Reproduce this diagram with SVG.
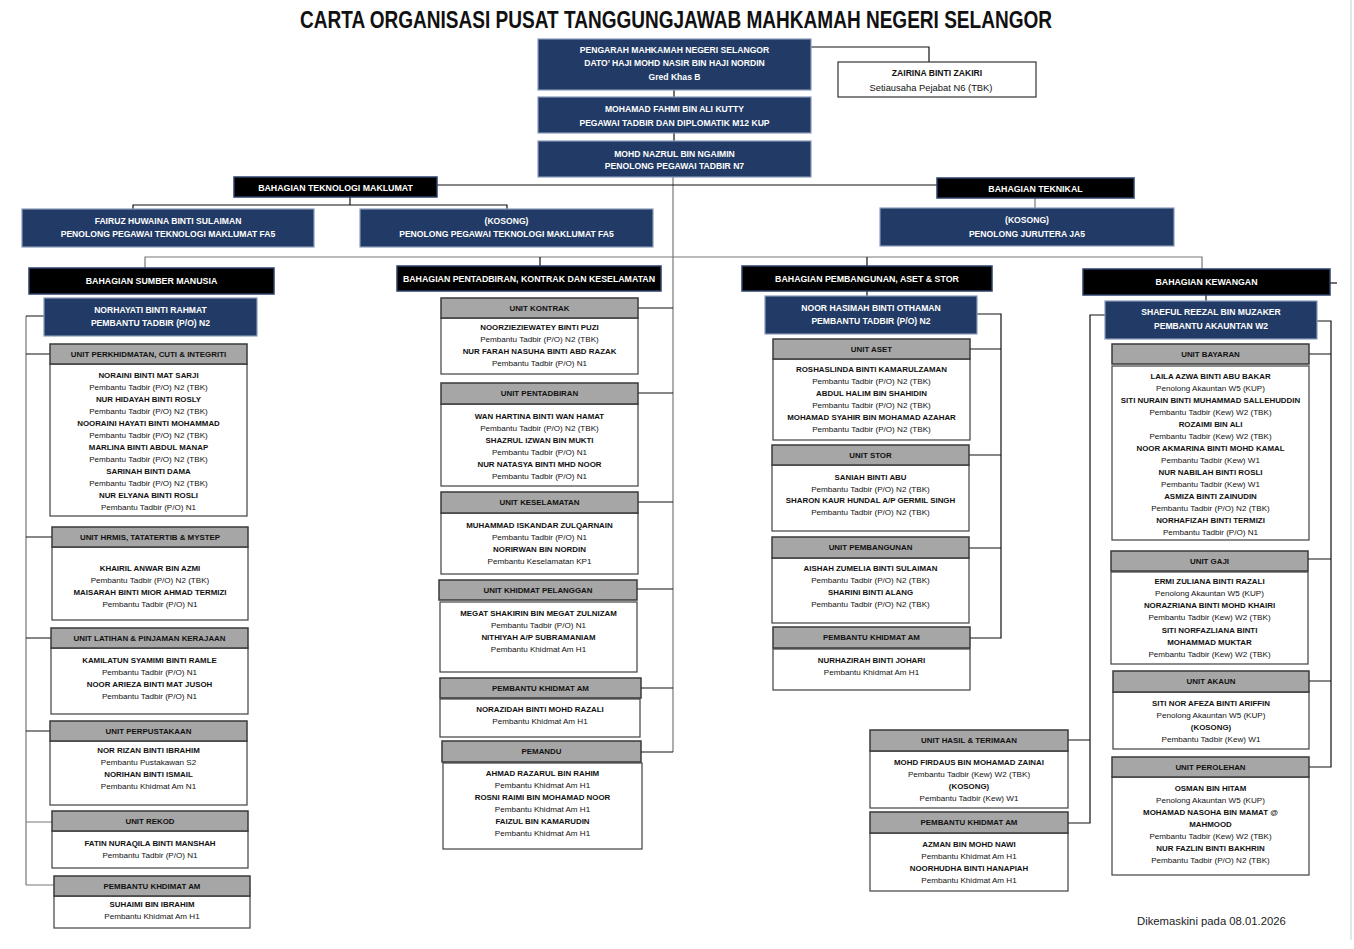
<svg xmlns="http://www.w3.org/2000/svg" width="1354" height="949" viewBox="0 0 1354 949">
<style>
text{font-family:"Liberation Sans",Arial,sans-serif;text-anchor:middle;dominant-baseline:central}
.title{font-size:24px;font-weight:bold;fill:#111}
.blue{fill:#213b66;stroke:#8a9bb8;stroke-width:1.2}
.blk{fill:#000;stroke:#2c4066;stroke-width:1.5}
.hdr{fill:#a6a6a6;stroke:#3a3a3a;stroke-width:1.5}
.bdy{fill:#fff;stroke:#404040;stroke-width:1.2}
.wt{font-size:8.6px;font-weight:bold;fill:#fff}
.bt{font-size:8.8px;font-weight:bold;fill:#fff}
.h{font-size:7.9px;font-weight:bold;fill:#111}
.n{font-size:7.9px;font-weight:bold;fill:#111}
.r{font-size:8.1px;fill:#111}
.ft{font-size:11.3px;fill:#222;text-anchor:start}
.c{fill:none;stroke:#111;stroke-width:1.2}
.cg{fill:none;stroke:#777;stroke-width:1.2}
</style>
<rect width="1354" height="949" fill="#fff"/>
<line x1="1351" y1="0" x2="1351" y2="940" stroke="#ccc" stroke-width="1"/>
<text class="title" x="676" y="19" textLength="752" lengthAdjust="spacingAndGlyphs">CARTA ORGANISASI PUSAT TANGGUNGJAWAB MAHKAMAH NEGERI SELANGOR</text>

<g id="connectors">
<path class="c" d="M811,47H929V62"/>
<path class="c" d="M674,90V97M674,133V141"/>
<path class="cg" d="M673,177V752"/>
<path class="c" d="M437,185H937"/>
<path class="c" d="M350,197V205M133,209V205H507V209"/>
<path class="cg" d="M1035,198V208"/>
<path class="cg" d="M145,268V257H1202V269"/>
<path class="c" d="M540,257V266M867,257V266"/>
<path class="cg" d="M26,316V885"/>
<path class="c" d="M26,316H44M26,354H50M26,537H52M26,638H51M26,731H50"/>
<path class="cg" d="M26,822H52M26,885H54"/>
<path class="c" d="M638,308H673M638,393H673M638,502H673M637,589H673M641,688H673M641,752H673"/>
<path class="c" d="M867,291V296"/>
<path class="c" d="M977,314H1001V638H970M970,349H1001M969,455H1001M969,548H1001"/>
<path class="c" d="M1206,295V301"/>
<path class="c" d="M1105,315H1090V823H1068M1068,740H1090"/>
<path class="c" d="M1317,321H1331V767H1309M1309,354H1331M1308,559H1331M1309,681H1331"/>
<path class="c" d="M1330,283H1337"/>
</g>

<g id="pengarah"><rect class="blue" x="538" y="39" width="273" height="51"/>
<text class="wt" x="674.5" y="50">PENGARAH MAHKAMAH NEGERI SELANGOR</text>
<text class="wt" x="674.5" y="63">DATO’ HAJI MOHD NASIR BIN HAJI NORDIN</text>
<text class="wt" x="674.5" y="77">Gred Khas B</text></g>
<g id="zairina"><rect x="838" y="62" width="198" height="35" fill="#fff" stroke="#333" stroke-width="1.2"/>
<text class="n" x="937" y="73" style="font-size:8.6px">ZAIRINA BINTI ZAKIRI</text>
<text class="r" x="931" y="87" style="font-size:9.4px">Setiausaha Pejabat N6 (TBK)</text></g>
<g id="fahmi"><rect class="blue" x="538" y="97" width="273" height="36"/>
<text class="wt" x="674.5" y="109">MOHAMAD FAHMI BIN ALI KUTTY</text>
<text class="wt" x="674.5" y="123">PEGAWAI TADBIR DAN DIPLOMATIK M12 KUP</text></g>
<g id="nazrul"><rect class="blue" x="538" y="141" width="273" height="36"/>
<text class="wt" x="674.5" y="154">MOHD NAZRUL BIN NGAIMIN</text>
<text class="wt" x="674.5" y="166">PENOLONG PEGAWAI TADBIR N7</text></g>

<g id="bhg-tm"><rect class="blk" x="234" y="177" width="203" height="20"/>
<text class="bt" x="335.5" y="187.5">BAHAGIAN TEKNOLOGI MAKLUMAT</text></g>
<g id="bhg-teknikal"><rect class="blk" x="937" y="178" width="197" height="20"/>
<text class="bt" x="1035.5" y="188.5">BAHAGIAN TEKNIKAL</text></g>
<g id="fairuz"><rect class="blue" x="22" y="209" width="292" height="38"/>
<text class="wt" x="168" y="221">FAIRUZ HUWAINA BINTI SULAIMAN</text>
<text class="wt" x="168" y="234">PENOLONG PEGAWAI TEKNOLOGI MAKLUMAT FA5</text></g>
<g id="kosong-it"><rect class="blue" x="360" y="209" width="293" height="38"/>
<text class="wt" x="506.5" y="221">(KOSONG)</text>
<text class="wt" x="506.5" y="234">PENOLONG PEGAWAI TEKNOLOGI MAKLUMAT FA5</text></g>
<g id="kosong-ja"><rect class="blue" x="880" y="208" width="294" height="38"/>
<text class="wt" x="1027" y="220">(KOSONG)</text>
<text class="wt" x="1027" y="234">PENOLONG JURUTERA JA5</text></g>

<g id="bhg-sm"><rect class="blk" x="29" y="268" width="245" height="26"/>
<text class="bt" x="151.5" y="281">BAHAGIAN SUMBER MANUSIA</text></g>
<g id="bhg-pks"><rect class="blk" x="397" y="266" width="264" height="25"/>
<text class="bt" x="529" y="278.5">BAHAGIAN PENTADBIRAN, KONTRAK DAN KESELAMATAN</text></g>
<g id="bhg-pas"><rect class="blk" x="742" y="266" width="250" height="25"/>
<text class="bt" x="867" y="278.5">BAHAGIAN PEMBANGUNAN, ASET &amp; STOR</text></g>
<g id="bhg-kew"><rect class="blk" x="1083" y="269" width="247" height="26"/>
<text class="bt" x="1206.5" y="282">BAHAGIAN KEWANGAN</text></g>

<g id="norhayati"><rect class="blue" x="44" y="298" width="213" height="38"/>
<text class="wt" x="150.5" y="310">NORHAYATI BINTI RAHMAT</text>
<text class="wt" x="150.5" y="323">PEMBANTU TADBIR (P/O) N2</text></g>
<g id="hasimah"><rect class="blue" x="765" y="296" width="212" height="38"/>
<text class="wt" x="871" y="308">NOOR HASIMAH BINTI OTHAMAN</text>
<text class="wt" x="871" y="321">PEMBANTU TADBIR (P/O) N2</text></g>
<g id="shaeful"><rect class="blue" x="1105" y="301" width="212" height="38"/>
<text class="wt" x="1211" y="312">SHAEFUL REEZAL BIN MUZAKER</text>
<text class="wt" x="1211" y="326">PEMBANTU AKAUNTAN W2</text></g>

<!-- Column 1 -->
<g id="u-perkhidmatan"><rect class="bdy" x="50" y="364" width="197" height="152"/><rect class="hdr" x="50" y="344" width="197" height="20"/>
<text class="h" x="148.5" y="354">UNIT PERKHIDMATAN, CUTI &amp; INTEGRITI</text>
<text class="n" x="148.5" y="375">NORAINI BINTI MAT SARJI</text>
<text class="r" x="148.5" y="387">Pembantu Tadbir (P/O) N2 (TBK)</text>
<text class="n" x="148.5" y="399">NUR HIDAYAH BINTI ROSLY</text>
<text class="r" x="148.5" y="411">Pembantu Tadbir (P/O) N2 (TBK)</text>
<text class="n" x="148.5" y="423">NOORAINI HAYATI BINTI MOHAMMAD</text>
<text class="r" x="148.5" y="435">Pembantu Tadbir (P/O) N2 (TBK)</text>
<text class="n" x="148.5" y="447">MARLINA BINTI ABDUL MANAP</text>
<text class="r" x="148.5" y="459">Pembantu Tadbir (P/O) N2 (TBK)</text>
<text class="n" x="148.5" y="471">SARINAH BINTI DAMA</text>
<text class="r" x="148.5" y="483">Pembantu Tadbir (P/O) N2 (TBK)</text>
<text class="n" x="148.5" y="495">NUR ELYANA BINTI ROSLI</text>
<text class="r" x="148.5" y="507">Pembantu Tadbir (P/O) N1</text></g>
<g id="u-hrmis"><rect class="bdy" x="52" y="547" width="196" height="73"/><rect class="hdr" x="52" y="527" width="196" height="20"/>
<text class="h" x="150" y="537">UNIT HRMIS, TATATERTIB &amp; MYSTEP</text>
<text class="n" x="150" y="568">KHAIRIL ANWAR BIN AZMI</text>
<text class="r" x="150" y="580">Pembantu Tadbir (P/O) N2 (TBK)</text>
<text class="n" x="150" y="592">MAISARAH BINTI MIOR AHMAD TERMIZI</text>
<text class="r" x="150" y="604">Pembantu Tadbir (P/O) N1</text></g>
<g id="u-latihan"><rect class="bdy" x="51" y="648" width="197" height="66"/><rect class="hdr" x="51" y="628" width="197" height="20"/>
<text class="h" x="149.5" y="638">UNIT LATIHAN &amp; PINJAMAN KERAJAAN</text>
<text class="n" x="149.5" y="660">KAMILATUN SYAMIMI BINTI RAMLE</text>
<text class="r" x="149.5" y="672">Pembantu Tadbir (P/O) N1</text>
<text class="n" x="149.5" y="684">NOOR ARIEZA BINTI MAT JUSOH</text>
<text class="r" x="149.5" y="696">Pembantu Tadbir (P/O) N1</text></g>
<g id="u-perpustakaan"><rect class="bdy" x="50" y="741" width="197" height="64"/><rect class="hdr" x="50" y="721" width="197" height="20"/>
<text class="h" x="148.5" y="731">UNIT PERPUSTAKAAN</text>
<text class="n" x="148.5" y="750">NOR RIZAN BINTI IBRAHIM</text>
<text class="r" x="148.5" y="762">Pembantu Pustakawan S2</text>
<text class="n" x="148.5" y="774">NORIHAN BINTI ISMAIL</text>
<text class="r" x="148.5" y="786">Pembantu Khidmat Am N1</text></g>
<g id="u-rekod"><rect class="bdy" x="52" y="831" width="196" height="37"/><rect class="hdr" x="52" y="811" width="196" height="20"/>
<text class="h" x="150" y="821">UNIT REKOD</text>
<text class="n" x="150" y="843">FATIN NURAQILA BINTI MANSHAH</text>
<text class="r" x="150" y="855">Pembantu Tadbir (P/O) N1</text></g>
<g id="u-pka-sm"><rect class="bdy" x="54" y="896" width="196" height="32"/><rect class="hdr" x="54" y="876" width="196" height="20"/>
<text class="h" x="152" y="886">PEMBANTU KHDIMAT AM</text>
<text class="n" x="152" y="904">SUHAIMI BIN IBRAHIM</text>
<text class="r" x="152" y="916">Pembantu Khidmat Am H1</text></g>

<!-- Column 2 -->
<g id="u-kontrak"><rect class="bdy" x="441" y="318" width="197" height="56"/><rect class="hdr" x="441" y="298" width="197" height="20"/>
<text class="h" x="539.5" y="308">UNIT KONTRAK</text>
<text class="n" x="539.5" y="327">NOORZIEZIEWATEY BINTI PUZI</text>
<text class="r" x="539.5" y="339">Pembantu Tadbir (P/O) N2 (TBK)</text>
<text class="n" x="539.5" y="351">NUR FARAH NASUHA BINTI ABD RAZAK</text>
<text class="r" x="539.5" y="363">Pembantu Tadbir (P/O) N1</text></g>
<g id="u-pentadbiran"><rect class="bdy" x="441" y="404" width="197" height="82"/><rect class="hdr" x="441" y="383" width="197" height="21"/>
<text class="h" x="539.5" y="393.5">UNIT PENTADBIRAN</text>
<text class="n" x="539.5" y="416">WAN HARTINA BINTI WAN HAMAT</text>
<text class="r" x="539.5" y="428">Pembantu Tadbir (P/O) N2 (TBK)</text>
<text class="n" x="539.5" y="440">SHAZRUL IZWAN BIN MUKTI</text>
<text class="r" x="539.5" y="452">Pembantu Tadbir (P/O) N1</text>
<text class="n" x="539.5" y="464">NUR NATASYA BINTI MHD NOOR</text>
<text class="r" x="539.5" y="476">Pembantu Tadbir (P/O) N1</text></g>
<g id="u-keselamatan"><rect class="bdy" x="441" y="513" width="197" height="61"/><rect class="hdr" x="441" y="492" width="197" height="21"/>
<text class="h" x="539.5" y="502.5">UNIT KESELAMATAN</text>
<text class="n" x="539.5" y="525">MUHAMMAD ISKANDAR ZULQARNAIN</text>
<text class="r" x="539.5" y="537">Pembantu Tadbir (P/O) N1</text>
<text class="n" x="539.5" y="549">NORIRWAN BIN NORDIN</text>
<text class="r" x="539.5" y="561">Pembantu Keselamatan KP1</text></g>
<g id="u-pelanggan"><rect class="bdy" x="440" y="602" width="197" height="70"/><rect class="hdr" x="439" y="580" width="198" height="20"/>
<text class="h" x="538" y="590">UNIT KHIDMAT PELANGGAN</text>
<text class="n" x="538.5" y="613">MEGAT SHAKIRIN BIN MEGAT ZULNIZAM</text>
<text class="r" x="538.5" y="625">Pembantu Tadbir (P/O) N1</text>
<text class="n" x="538.5" y="637">NITHIYAH A/P SUBRAMANIAM</text>
<text class="r" x="538.5" y="649">Pembantu Khidmat Am H1</text></g>
<g id="u-pka-pks"><rect class="bdy" x="440" y="699" width="200" height="38"/><rect class="hdr" x="440" y="678" width="201" height="20"/>
<text class="h" x="540.5" y="688">PEMBANTU KHIDMAT AM</text>
<text class="n" x="540" y="709">NORAZIDAH BINTI MOHD RAZALI</text>
<text class="r" x="540" y="721">Pembantu Khidmat Am H1</text></g>
<g id="u-pemandu"><rect class="bdy" x="443" y="763" width="199" height="86"/><rect class="hdr" x="442" y="741" width="199" height="21"/>
<text class="h" x="541.5" y="751.5">PEMANDU</text>
<text class="n" x="542.5" y="773">AHMAD RAZARUL BIN RAHIM</text>
<text class="r" x="542.5" y="785">Pembantu Khidmat Am H1</text>
<text class="n" x="542.5" y="797">ROSNI RAIMI BIN MOHAMAD NOOR</text>
<text class="r" x="542.5" y="809">Pembantu Khidmat Am H1</text>
<text class="n" x="542.5" y="821">FAIZUL BIN KAMARUDIN</text>
<text class="r" x="542.5" y="833">Pembantu Khidmat Am H1</text></g>

<!-- Column 3 -->
<g id="u-aset"><rect class="bdy" x="773" y="359" width="197" height="81"/><rect class="hdr" x="773" y="339" width="197" height="20"/>
<text class="h" x="871.5" y="349">UNIT ASET</text>
<text class="n" x="871.5" y="369">ROSHASLINDA BINTI KAMARULZAMAN</text>
<text class="r" x="871.5" y="381">Pembantu Tadbir (P/O) N2 (TBK)</text>
<text class="n" x="871.5" y="393">ABDUL HALIM BIN SHAHIDIN</text>
<text class="r" x="871.5" y="405">Pembantu Tadbir (P/O) N2 (TBK)</text>
<text class="n" x="871.5" y="417">MOHAMAD SYAHIR BIN MOHAMAD AZAHAR</text>
<text class="r" x="871.5" y="429">Pembantu Tadbir (P/O) N2 (TBK)</text></g>
<g id="u-stor"><rect class="bdy" x="772" y="465" width="197" height="66"/><rect class="hdr" x="772" y="445" width="197" height="20"/>
<text class="h" x="870.5" y="455">UNIT STOR</text>
<text class="n" x="870.5" y="477">SANIAH BINTI ABU</text>
<text class="r" x="870.5" y="489">Pembantu Tadbir (P/O) N2 (TBK)</text>
<text class="n" x="870.5" y="500">SHARON KAUR HUNDAL A/P GERMIL SINGH</text>
<text class="r" x="870.5" y="512">Pembantu Tadbir (P/O) N2 (TBK)</text></g>
<g id="u-pembangunan"><rect class="bdy" x="772" y="558" width="197" height="65"/><rect class="hdr" x="772" y="537" width="197" height="21"/>
<text class="h" x="870.5" y="547.5">UNIT PEMBANGUNAN</text>
<text class="n" x="870.5" y="568">AISHAH ZUMELIA BINTI SULAIMAN</text>
<text class="r" x="870.5" y="580">Pembantu Tadbir (P/O) N2 (TBK)</text>
<text class="n" x="870.5" y="592">SHARINI BINTI ALANG</text>
<text class="r" x="870.5" y="604">Pembantu Tadbir (P/O) N2 (TBK)</text></g>
<g id="u-pka-pas"><rect class="bdy" x="773" y="649" width="197" height="41"/><rect class="hdr" x="773" y="627" width="197" height="21"/>
<text class="h" x="871.5" y="637.5">PEMBANTU KHIDMAT AM</text>
<text class="n" x="871.5" y="660">NURHAZIRAH BINTI JOHARI</text>
<text class="r" x="871.5" y="672">Pembantu Khidmat Am H1</text></g>
<g id="u-hasil"><rect class="bdy" x="870" y="751" width="198" height="57"/><rect class="hdr" x="870" y="730" width="198" height="21"/>
<text class="h" x="969" y="740.5">UNIT HASIL &amp; TERIMAAN</text>
<text class="n" x="969" y="762">MOHD FIRDAUS BIN MOHAMAD ZAINAI</text>
<text class="r" x="969" y="774">Pembantu Tadbir (Kew) W2 (TBK)</text>
<text class="n" x="969" y="786">(KOSONG)</text>
<text class="r" x="969" y="798">Pembantu Tadbir (Kew) W1</text></g>
<g id="u-pka-kew"><rect class="bdy" x="870" y="833" width="198" height="58"/><rect class="hdr" x="870" y="812" width="198" height="21"/>
<text class="h" x="969" y="822.5">PEMBANTU KHIDMAT AM</text>
<text class="n" x="969" y="844">AZMAN BIN MOHD NAWI</text>
<text class="r" x="969" y="856">Pembantu Khidmat Am H1</text>
<text class="n" x="969" y="868">NOORHUDHA BINTI HANAPIAH</text>
<text class="r" x="969" y="880">Pembantu Khidmat Am H1</text></g>

<!-- Column 4 -->
<g id="u-bayaran"><rect class="bdy" x="1112" y="366" width="197" height="174"/><rect class="hdr" x="1112" y="344" width="197" height="20"/>
<text class="h" x="1210.5" y="354">UNIT BAYARAN</text>
<text class="n" x="1210.5" y="376">LAILA AZWA BINTI ABU BAKAR</text>
<text class="r" x="1210.5" y="388">Penolong Akauntan W5 (KUP)</text>
<text class="n" x="1210.5" y="400">SITI NURAIN BINTI MUHAMMAD SALLEHUDDIN</text>
<text class="r" x="1210.5" y="412">Pembantu Tadbir (Kew) W2 (TBK)</text>
<text class="n" x="1210.5" y="424">ROZAIMI BIN ALI</text>
<text class="r" x="1210.5" y="436">Pembantu Tadbir (Kew) W2 (TBK)</text>
<text class="n" x="1210.5" y="448">NOOR AKMARINA BINTI MOHD KAMAL</text>
<text class="r" x="1210.5" y="460">Pembantu Tadbir (Kew) W1</text>
<text class="n" x="1210.5" y="472">NUR NABILAH BINTI ROSLI</text>
<text class="r" x="1210.5" y="484">Pembantu Tadbir (Kew) W1</text>
<text class="n" x="1210.5" y="496">ASMIZA BINTI ZAINUDIN</text>
<text class="r" x="1210.5" y="508">Pembantu Tadbir (P/O) N2 (TBK)</text>
<text class="n" x="1210.5" y="520">NORHAFIZAH BINTI TERMIZI</text>
<text class="r" x="1210.5" y="532">Pembantu Tadbir (P/O) N1</text></g>
<g id="u-gaji"><rect class="bdy" x="1111" y="572" width="197" height="92"/><rect class="hdr" x="1111" y="551" width="197" height="20"/>
<text class="h" x="1209.5" y="561">UNIT GAJI</text>
<text class="n" x="1209.5" y="581">ERMI ZULIANA BINTI RAZALI</text>
<text class="r" x="1209.5" y="593">Penolong Akauntan W5 (KUP)</text>
<text class="n" x="1209.5" y="605">NORAZRIANA BINTI MOHD KHAIRI</text>
<text class="r" x="1209.5" y="617">Pembantu Tadbir (Kew) W2 (TBK)</text>
<text class="n" x="1209.5" y="630">SITI NORFAZLIANA BINTI</text>
<text class="n" x="1209.5" y="642">MOHAMMAD MUKTAR</text>
<text class="r" x="1209.5" y="654">Pembantu Tadbir (Kew) W2 (TBK)</text></g>
<g id="u-akaun"><rect class="bdy" x="1113" y="692" width="196" height="57"/><rect class="hdr" x="1113" y="671" width="196" height="21"/>
<text class="h" x="1211" y="681.5">UNIT AKAUN</text>
<text class="n" x="1211" y="703">SITI NOR AFEZA BINTI ARIFFIN</text>
<text class="r" x="1211" y="715">Penolong Akauntan W5 (KUP)</text>
<text class="n" x="1211" y="727">(KOSONG)</text>
<text class="r" x="1211" y="739">Pembantu Tadbir (Kew) W1</text></g>
<g id="u-perolehan"><rect class="bdy" x="1112" y="777" width="197" height="98"/><rect class="hdr" x="1112" y="757" width="197" height="20"/>
<text class="h" x="1210.5" y="767">UNIT PEROLEHAN</text>
<text class="n" x="1210.5" y="788">OSMAN BIN HITAM</text>
<text class="r" x="1210.5" y="800">Penolong Akauntan W5 (KUP)</text>
<text class="n" x="1210.5" y="812">MOHAMAD NASOHA BIN MAMAT @</text>
<text class="n" x="1210.5" y="824">MAHMOOD</text>
<text class="r" x="1210.5" y="836">Pembantu Tadbir (Kew) W2 (TBK)</text>
<text class="n" x="1210.5" y="848">NUR FAZLIN BINTI BAKHRIN</text>
<text class="r" x="1210.5" y="860">Pembantu Tadbir (P/O) N2 (TBK)</text></g>

<text class="ft" x="1137" y="921">Dikemaskini pada 08.01.2026</text>
</svg>
